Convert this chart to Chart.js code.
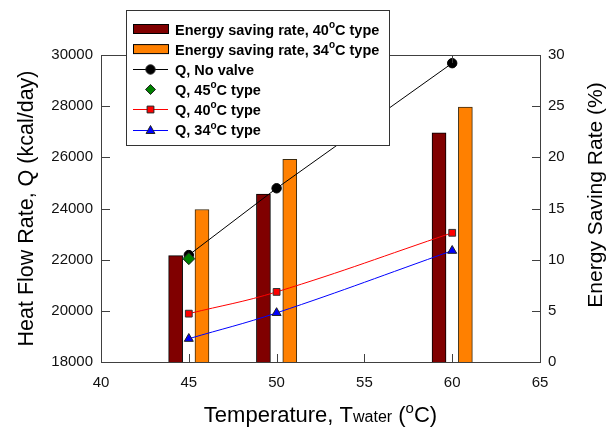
<!DOCTYPE html>
<html>
<head>
<meta charset="utf-8">
<script src="https://cdn.jsdelivr.net/npm/chart.js@4.4.0/dist/chart.umd.min.js"></script>
<style>
  html, body { margin: 0; padding: 0; background: #fff; }
  #wrap { width: 612px; height: 428px; }
</style>
</head>
<body>
<div id="wrap"><canvas id="chart"></canvas></div>
<script>
// values
const temps = [45, 50, 60];
const saving40 = [10.4, 16.4, 22.4];
const saving34 = [14.9, 19.8, 24.9];
const qNoValve = [22180, 24790, 29680];
const temps45 = [45];
const q45 = [22040];
const q40 = [19890, 20740, 23050];
const q34 = [18910, 19920, 22350];

const xTicks = [40, 45, 50, 55, 60, 65];
const qTicks = [18000, 20000, 22000, 24000, 26000, 28000, 30000];
const rateTicks = [0, 5, 10, 15, 20, 25, 30];

const FONT = "'Liberation Sans', Arial, sans-serif";
const AXIS = '#404040';
const BAR_SHIFT = 0.75;

const pts = (xs, ys, dx) => xs.map((x, i) => ({ x: x + (dx || 0), y: ys[i] }));

// draw text made of pieces (superscripts / subscripts)
function drawRich(ctx, x, y, segs, align) {
  let w = 0;
  segs.forEach(s => {
    ctx.font = (s.bold ? 'bold ' : '') + s.size + 'px ' + FONT;
    s.w = ctx.measureText(s.t).width;
    w += s.w;
  });
  let cx = align === 'center' ? x - w / 2 : x;
  ctx.textBaseline = 'alphabetic';
  ctx.textAlign = 'left';
  segs.forEach(s => {
    ctx.font = (s.bold ? 'bold ' : '') + s.size + 'px ' + FONT;
    ctx.fillText(s.t, cx, y + (s.dy || 0));
    cx += s.w;
  });
}

function marker(ctx, style, x, y, fill) {
  ctx.save();
  ctx.fillStyle = fill;
  ctx.strokeStyle = '#222';
  ctx.lineWidth = 1;
  ctx.beginPath();
  if (style === 'circle') {
    ctx.arc(x, y, 4.7, 0, Math.PI * 2);
  } else if (style === 'rectRot') {
    ctx.moveTo(x, y - 5); ctx.lineTo(x + 5, y); ctx.lineTo(x, y + 5); ctx.lineTo(x - 5, y); ctx.closePath();
  } else if (style === 'rect') {
    ctx.rect(x - 3.4, y - 3.4, 6.8, 6.8);
  } else if (style === 'triangle') {
    ctx.moveTo(x, y - 5); ctx.lineTo(x + 4.4, y + 3); ctx.lineTo(x - 4.4, y + 3); ctx.closePath();
  }
  ctx.fill();
  ctx.stroke();
  ctx.restore();
}

const legendRows = [
  { pre: 'Energy saving rate, 40', post: 'C type', kind: 'bar', fill: '#800000' },
  { pre: 'Energy saving rate, 34', post: 'C type', kind: 'bar', fill: '#FF8000' },
  { pre: 'Q, No valve', post: null, kind: 'line', line: '#000', style: 'circle', fill: '#000' },
  { pre: 'Q, 45', post: 'C type', kind: 'point', style: 'rectRot', fill: '#008000' },
  { pre: 'Q, 40', post: 'C type', kind: 'line', line: '#FF0000', style: 'rect', fill: '#FF0000' },
  { pre: 'Q, 34', post: 'C type', kind: 'line', line: '#0000FF', style: 'triangle', fill: '#0000FF' }
];

const framePlugin = {
  id: 'frame',
  afterDraw(chart) {
    const ctx = chart.ctx;
    const a = chart.chartArea;
    const xs = chart.scales.x, yq = chart.scales.yQ, yr = chart.scales.yR;
    ctx.save();
    ctx.strokeStyle = AXIS;
    ctx.lineWidth = 1;
    ctx.strokeRect(Math.round(a.left) + 0.5, Math.round(a.top) + 0.5,
      Math.round(a.right - a.left), Math.round(a.bottom - a.top));
    ctx.beginPath();
    xTicks.forEach(v => {
      const p = Math.round(xs.getPixelForValue(v)) + 0.5;
      ctx.moveTo(p, a.bottom); ctx.lineTo(p, a.bottom - 8);
      ctx.moveTo(p, a.top); ctx.lineTo(p, a.top + 8);
    });
    qTicks.forEach(v => {
      const p = Math.round(yq.getPixelForValue(v)) + 0.5;
      ctx.moveTo(a.left, p); ctx.lineTo(a.left + 9, p);
    });
    rateTicks.forEach(v => {
      const p = Math.round(yr.getPixelForValue(v)) + 0.5;
      ctx.moveTo(a.right, p); ctx.lineTo(a.right - 8, p);
    });
    ctx.stroke();

    // x axis title with subscript and superscript
    ctx.fillStyle = '#000';
    drawRich(ctx, (a.left + a.right) / 2, 422, [
      { t: 'Temperature, T', size: 22 },
      { t: 'water', size: 16 },
      { t: ' (', size: 22 },
      { t: 'o', size: 15, dy: -9 },
      { t: 'C)', size: 22 }
    ], 'center');

    // right axis title, reading bottom to top
    ctx.save();
    ctx.translate(602, 195);
    ctx.rotate(-Math.PI / 2);
    ctx.font = '21px ' + FONT;
    ctx.textAlign = 'center';
    ctx.textBaseline = 'alphabetic';
    ctx.fillText('Energy Saving Rate (%)', 0, 0);
    ctx.restore();

    // legend box
    const bx = 126, by = 10, bw = 263, bh = 135;
    ctx.fillStyle = '#fff';
    ctx.fillRect(bx, by, bw, bh);
    ctx.strokeStyle = '#333';
    ctx.strokeRect(bx + 0.5, by + 0.5, bw, bh);
    legendRows.forEach((r, i) => {
      const y = 29 + i * 20.1;
      if (r.kind === 'bar') {
        ctx.fillStyle = r.fill;
        ctx.fillRect(133, y - 4.5, 35, 9);
        ctx.strokeStyle = '#000';
        ctx.strokeRect(133.5, y - 4.5, 35, 9);
      } else {
        if (r.kind === 'line') {
          ctx.strokeStyle = r.line;
          ctx.beginPath();
          ctx.moveTo(133, Math.round(y) + 0.5);
          ctx.lineTo(168, Math.round(y) + 0.5);
          ctx.stroke();
        }
        marker(ctx, r.style, 150.5, Math.round(y) + 0.5, r.fill);
      }
      ctx.fillStyle = '#000';
      const segs = [{ t: r.pre, size: 14.5, bold: true }];
      if (r.post) {
        segs.push({ t: 'o', size: 10, bold: true, dy: -6.5 });
        segs.push({ t: r.post, size: 14.5, bold: true });
      }
      drawRich(ctx, 175, y + 5.5, segs, 'left');
    });
    ctx.restore();
  }
};

const tickFont = { family: FONT, size: 15 };
const plain = v => String(v);

new Chart(document.getElementById('chart'), {
  type: 'bar',
  data: {
    datasets: [
      {
        type: 'line', label: 'Q, 45°C type', data: pts(temps45, q45), yAxisID: 'yQ', order: 0,
        showLine: false, pointStyle: 'rectRot', pointRadius: 6, backgroundColor: '#008000',
        borderColor: '#222', pointBorderWidth: 1
      },
      {
        type: 'line', label: 'Q, No valve', data: pts(temps, qNoValve), yAxisID: 'yQ', order: 1,
        borderColor: '#000', borderWidth: 1, tension: 0, pointStyle: 'circle', pointRadius: 4.7,
        pointBackgroundColor: '#000', pointBorderColor: '#000'
      },
      {
        type: 'line', label: 'Q, 40°C type', data: pts(temps, q40), yAxisID: 'yQ', order: 2,
        borderColor: '#FF0000', borderWidth: 1, tension: 0.4, pointStyle: 'rect', pointRadius: 4.8,
        pointBackgroundColor: '#FF0000', pointBorderColor: '#333', pointBorderWidth: 1
      },
      {
        type: 'line', label: 'Q, 34°C type', data: pts(temps, q34), yAxisID: 'yQ', order: 3,
        borderColor: '#0000FF', borderWidth: 1, tension: 0.4, pointStyle: 'triangle', pointRadius: 5.2,
        pointBackgroundColor: '#0000FF', pointBorderColor: '#222', pointBorderWidth: 1
      },
      {
        label: 'Energy saving rate, 40°C type', data: pts(temps, saving40, -BAR_SHIFT), yAxisID: 'yR', order: 5,
        backgroundColor: '#800000', borderColor: '#000', borderWidth: 1, barThickness: 14, grouped: false
      },
      {
        label: 'Energy saving rate, 34°C type', data: pts(temps, saving34, BAR_SHIFT), yAxisID: 'yR', order: 5,
        backgroundColor: '#FF8000', borderColor: '#3a2a10', borderWidth: 1, barThickness: 14, grouped: false
      }
    ]
  },
  options: {
    responsive: true,
    maintainAspectRatio: false,
    animation: false,
    layout: { padding: { top: 55, left: 0, right: 0, bottom: 0 } },
    plugins: { legend: { display: false }, tooltip: { enabled: false } },
    scales: {
      x: {
        type: 'linear', min: 40, max: 65, offset: false,
        ticks: { stepSize: 5, font: tickFont, color: '#111', padding: 12, maxRotation: 0, callback: plain },
        grid: { display: false, drawTicks: false, offset: false },
        border: { display: false },
        afterFit: s => { s.height = 66; }
      },
      yQ: {
        type: 'linear', position: 'left', min: 18000, max: 30000,
        ticks: { stepSize: 2000, font: tickFont, color: '#111', padding: 8, callback: plain },
        grid: { display: false, drawTicks: false },
        border: { display: false },
        title: { display: true, text: 'Heat Flow Rate, Q (kcal/day)', font: { family: FONT, size: 21.5 }, color: '#000', padding: { top: 14, bottom: 0 } },
        afterFit: s => { s.width = 101; }
      },
      yR: {
        type: 'linear', position: 'right', min: 0, max: 30,
        ticks: { stepSize: 5, font: tickFont, color: '#111', padding: 8, callback: plain },
        grid: { display: false, drawTicks: false },
        border: { display: false },
        afterFit: s => { s.width = 72; }
      }
    }
  },
  plugins: [framePlugin]
});
</script>
</body>
</html>
